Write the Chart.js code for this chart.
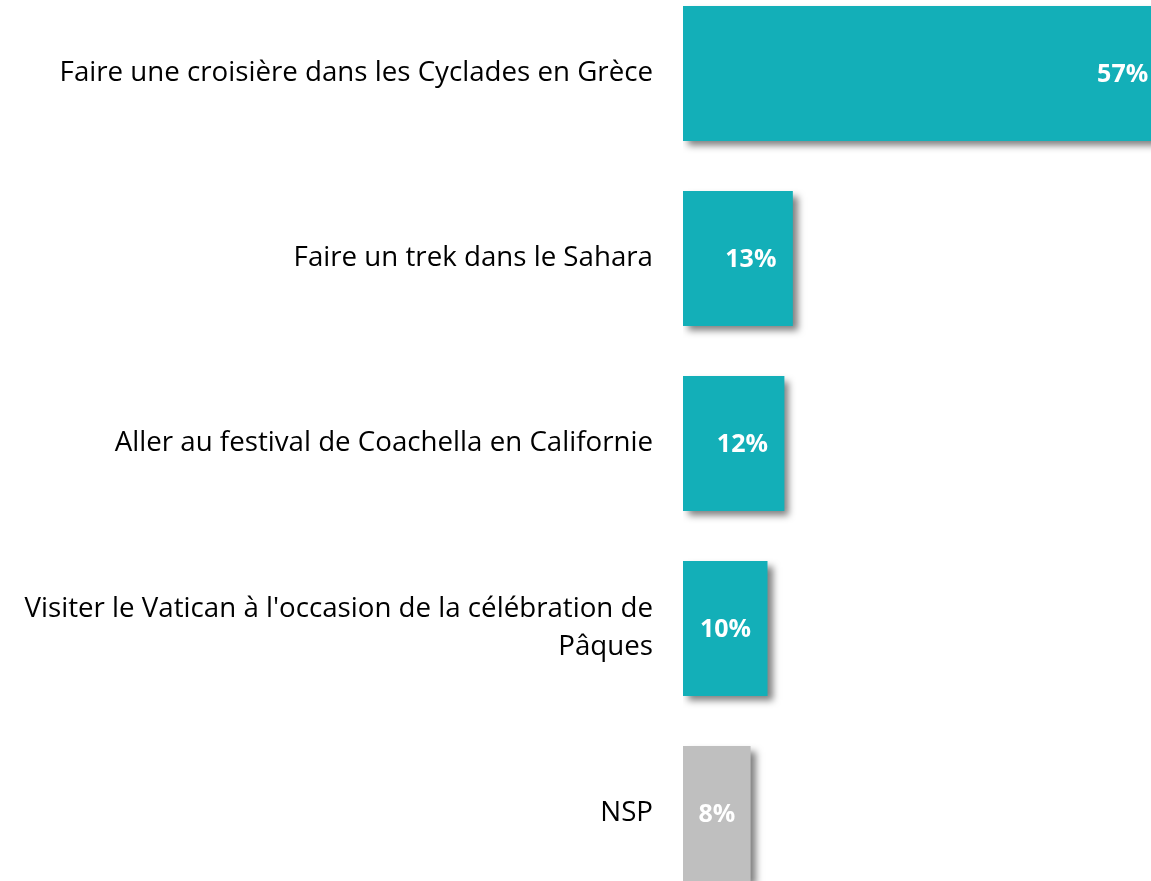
<!DOCTYPE html>
<html>
<head>
<meta charset="utf-8">
<script src="https://cdn.jsdelivr.net/npm/chart.js@4.4.1/dist/chart.umd.min.js"></script>
<style>
  html, body { margin: 0; padding: 0; background: #fff; overflow: hidden; }
  #wrap { position: absolute; left: 0; top: -19px; width: 1190px; height: 925px; }
</style>
</head>
<body>
<div id="wrap"><canvas id="chart"></canvas></div>
<script>
// Categories and values
const categories = [
    "Faire une croisière dans les Cyclades en Grèce",
    "Faire un trek dans le Sahara",
    "Aller au festival de Coachella en Californie",
    ["Visiter le Vatican à l'occasion de la célébration de", "Pâques"],
    "NSP"
];
const values = [57, 13, 12, 10, 8];
const barColors = ["#13AFB8", "#13AFB8", "#13AFB8", "#13AFB8", "#BFBFBF"];

// Ombre portée sous les barres
const shadowPlugin = {
    id: "barShadow",
    beforeDatasetsDraw(chart) {
        const ctx = chart.ctx;
        ctx.save();
        ctx.shadowColor = "rgba(0,0,0,0.5)";
        ctx.shadowBlur = 7;
        ctx.shadowOffsetX = 5;
        ctx.shadowOffsetY = 5;
    },
    afterDatasetsDraw(chart) {
        chart.ctx.restore();
    }
};

// Étiquettes de valeur à l'intérieur des barres
const valueLabels = {
    id: "valueLabels",
    afterDatasetsDraw(chart) {
        const ctx = chart.ctx;
        const meta = chart.getDatasetMeta(0);
        ctx.save();
        ctx.fillStyle = "#ffffff";
        ctx.font = "bold 25px 'Open Sans'";
        ctx.textAlign = "center";
        ctx.textBaseline = "middle";
        meta.data.forEach(function (bar, i) {
            const w = bar.x - bar.base;
            const cx = w > 80 ? bar.x - 42 : bar.base + w / 2;
            ctx.fillText(values[i] + "%", cx, bar.y + 1);
        });
        ctx.restore();
    }
};

new Chart(document.getElementById("chart"), {
    type: "bar",
    data: {
        labels: categories,
        datasets: [
            {
                data: values,
                backgroundColor: barColors,
                borderWidth: 0,
                barPercentage: 0.73,
                categoryPercentage: 1
            }
        ]
    },
    options: {
        indexAxis: "y",
        responsive: true,
        maintainAspectRatio: false,
        animation: false,
        layout: { padding: 0 },
        plugins: {
            legend: { display: false },
            tooltip: { enabled: false }
        },
        scales: {
            x: {
                display: false,
                min: 0,
                max: 60
            },
            y: {
                grid: { display: false },
                border: { display: false },
                ticks: {
                    padding: 22,
                    color: "#000000",
                    font: { family: "'Open Sans'", size: 27.7, lineHeight: 1.37 }
                },
                afterFit: function (scale) {
                    scale.width = 683;
                    scale.paddingTop = 0;
                    scale.paddingBottom = 0;
                }
            }
        }
    },
    plugins: [shadowPlugin, valueLabels]
});
</script>
</body>
</html>
